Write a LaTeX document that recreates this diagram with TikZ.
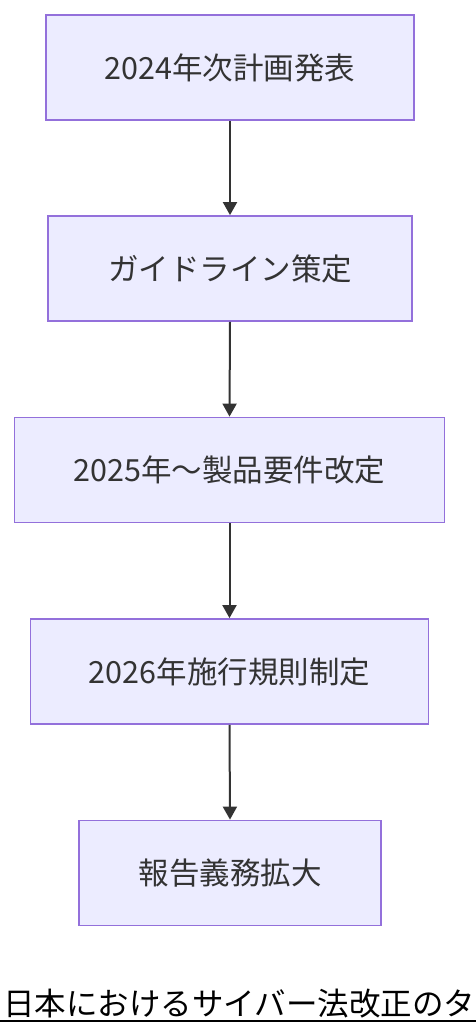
\documentclass[tikz,border=0pt]{standalone}
\usepackage{fontspec}
\setmainfont{Noto Sans CJK JP}
\usetikzlibrary{arrows.meta}

\definecolor{boxfill}{HTML}{ECECFF}
\definecolor{boxline}{HTML}{9370DB}
\definecolor{ink}{HTML}{333333}

\tikzset{
  stage/.style={draw=boxline, fill=boxfill, line width=1.8pt, text=ink, font=\fontsize{30.5}{33}\selectfont, minimum height=105pt, inner sep=0pt},
  flow/.style={ink, line width=2pt, -{Triangle[length=13pt, width=14pt]}}
}

\begin{document}
\begin{tikzpicture} [x=1pt, y=-1pt]
\useasboundingbox (0,0) rectangle (476,1036);
\clip (0,0) rectangle (476,1036);

\node[stage, minimum width=368pt] (plan)   at (230,67.5)  {2024年次計画発表};
\node[stage, minimum width=364pt] (guide)  at (230,268.5) {ガイドライン策定};
\node[stage, minimum width=430pt] (prod)   at (229.5,470) {2025年～製品要件改定};
\node[stage, minimum width=398pt] (rule)   at (229.5,671.5) {2026年施行規則制定};
\node[stage, minimum width=302pt] (report) at (230,873)   {報告義務拡大};

\foreach \a/\b in {plan/guide, guide/prod, prod/rule, rule/report} \draw[flow] (\a.south) -- (\b.north);

\node[anchor=base west, inner sep=0pt, font=\fontsize{31.5}{34}\selectfont] (title) at (3,1015) {日本におけるサイバー法改正のタ};
\draw[black, line width=2.2pt] (0,1021) -- (476,1021);

\end{tikzpicture}
\end{document}
